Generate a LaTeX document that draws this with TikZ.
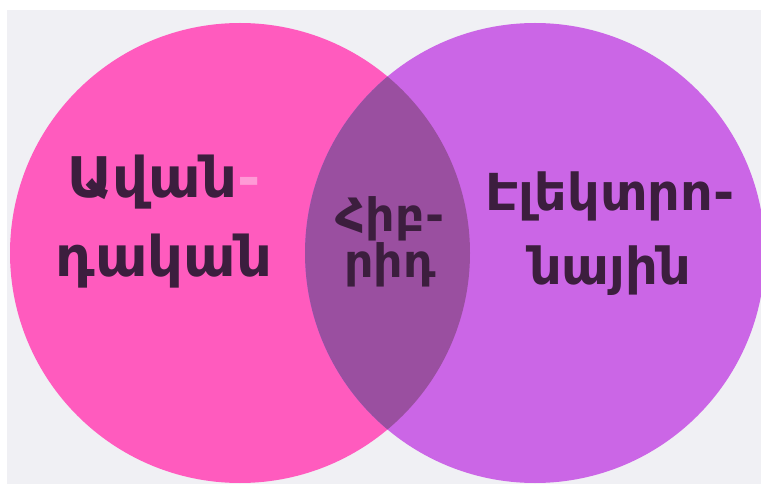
\documentclass[tikz,border=0pt]{standalone}
\usepackage{fontspec}
\setmainfont{DejaVu Sans}
\usetikzlibrary{positioning}
\definecolor{bggray}{HTML}{F0F0F4}
\definecolor{pinkc}{HTML}{FF5BBE}
\definecolor{purplec}{HTML}{CB66E6}
\definecolor{overlapc}{HTML}{9A4FA0}
\definecolor{inkc}{HTML}{3C1E3E}
\definecolor{dashpink}{HTML}{FF9AD6}

\begin{document}
\begin{tikzpicture}[
    x=1pt, y=-1pt,
    setlabel/.style={font=\bfseries\fontsize{56}{79}\selectfont, text=inkc, align=center, inner sep=0pt},
    rightlabel/.style={setlabel, font=\bfseries\fontsize{51}{74}\selectfont},
    midlabel/.style={font=\bfseries\fontsize{46}{46}\selectfont, text=inkc, align=center, inner sep=0pt}
]
\useasboundingbox (0,0) rectangle (761,486);

% Background
\fill[white] (0,0) rectangle (761,486);
\fill[bggray] (7,10) rectangle (761,484);

% Circles
\coordinate (lc) at (240,253);
\coordinate (rc) at (535,253);
\fill[pinkc] (lc) circle[radius=230pt];
\fill[purplec] (rc) circle[radius=230pt];
\begin{scope}
    \clip (lc) circle[radius=230pt];
    \fill[overlapc] (rc) circle[radius=230pt];
\end{scope}

% Labels
\node[setlabel] (trad) at (164,222) {Ավան\textcolor{dashpink}{-}\\դական};
\node[midlabel] (hyb) at (390,242) {Հիբ-\\րիդ};
\node[rightlabel] (elec) at (610,234) {Էլեկտրո-\\նային};

\end{tikzpicture}
\end{document}
